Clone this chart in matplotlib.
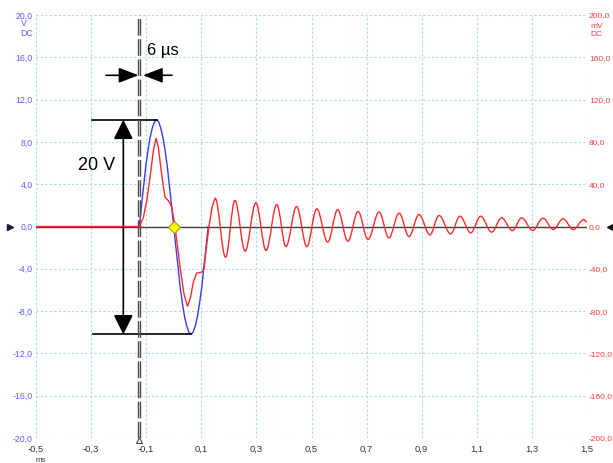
import matplotlib
matplotlib.use('Agg')
import matplotlib.pyplot as plt
from matplotlib.path import Path
from matplotlib.patches import PathPatch
import numpy as np

plt.rcParams['font.family'] = ['Liberation Sans', 'DejaVu Sans']

# channel A (blue, V): a single sine burst (flat part hidden under the zero line)
blue_t = [-0.125, -0.117, -0.109, -0.102, -0.094, -0.086, -0.078, -0.070, -0.0625,
          -0.055, -0.047, -0.039, -0.031, -0.023, -0.016, -0.008, 0.0,
          0.008, 0.016, 0.023, 0.031, 0.039, 0.047, 0.055, 0.0625,
          0.070, 0.078, 0.086, 0.094, 0.102, 0.109, 0.117, 0.125]
blue_v = [0, 2.0, 3.9, 5.6, 7.1, 8.4, 9.3, 9.9, 10.1,
          9.9, 9.3, 8.4, 7.1, 5.6, 3.9, 2.0, 0,
          -2.0, -3.9, -5.7, -7.2, -8.5, -9.4, -10.0, -10.2,
          -10.0, -9.4, -8.5, -7.2, -5.7, -3.9, -2.0, 0]

# channel B (red, mV): the pulse response, read point by point
pulse_t = [-0.5, -0.125, -0.110, -0.098, -0.086, -0.074, -0.064, -0.056, -0.044, -0.032,
           -0.020, -0.008, 0.001, 0.011, 0.023, 0.037, 0.050, 0.061, 0.071, 0.083,
           0.101, 0.110, 0.120, 0.128, 0.139]
pulse_mv = [0, 0, 8.8, 24.6, 46.6, 71.9, 83.5, 75.0, 49.8, 27.7,
            24.6, 18.9, 5.7, -13.2, -38.5, -63.7, -75.7, -66.8, -52.6, -44.1,
            -43.2, -40.0, -16.4, 0, 18.3]

# ringing after the pulse: successive peaks / troughs
ring_t = [0.150, 0.188, 0.222, 0.259, 0.298, 0.335, 0.374, 0.407, 0.446, 0.483,
          0.519, 0.559, 0.595, 0.632, 0.669, 0.705, 0.745, 0.781, 0.818, 0.854,
          0.890, 0.930, 0.963, 1.005, 1.039, 1.078, 1.114, 1.154, 1.190, 1.229,
          1.263, 1.303, 1.340, 1.378, 1.413, 1.450, 1.489]
ring_mv = [26.8, -29.0, 24.6, -23.3, 22.4, -22.7, 20.8, -19.0, 18.9, -19.0,
           16.7, -14.8, 16.0, -13.9, 14.2, -12.3, 13.6, -10.7, 12.6, -9.5,
           11.3, -7.9, 10.4, -7.0, 9.7, -6.0, 9.7, -5.3, 8.2, -3.8,
           8.2, -3.8, 7.9, -2.8, 7.3, -2.8, 6.6]
end_t, end_mv = 1.5, 4.0

cursor_t = [-0.128, -0.122]

x_ticks = [-0.5, -0.3, -0.1, 0.1, 0.3, 0.5, 0.7, 0.9, 1.1, 1.3, 1.5]
x_labels = ['-0,5', '-0,3', '-0,1', '0,1', '0,3', '0,5', '0,7', '0,9', '1,1', '1,3', '1,5']
v_ticks = [-20, -16, -12, -8, -4, 0, 4, 8, 12, 16, 20]
v_labels = ['-20,0', '-16,0', '-12,0', '-8,0', '-4,0', '0,0', '4,0', '8,0', '12,0', '16,0', '20,0']
mv_ticks = [-200, -160, -120, -80, -40, 0, 40, 80, 120, 160, 200]
mv_labels = ['-200,0', '-160,0', '-120,0', '-80,0', '-40,0', '0,0', '40,0', '80,0', '120,0', '160,0', '200,0']

blue = '#3a3aff'
red = '#ff2a2a'
blue_lbl = '#5c5cff'
red_lbl = '#ff3c3c'
W, H = 613, 463

fig = plt.figure(figsize=(W / 100, H / 100), dpi=100)
ax = fig.add_axes([36 / W, 25 / H, 551 / W, 423 / H])
ax.set_xlim(-0.5, 1.5)
ax.set_ylim(-20, 20)
ax.set_xticks(x_ticks, x_labels)
ax.set_yticks(v_ticks, v_labels)
ax.tick_params(axis='both', length=0)
ax.tick_params(axis='y', labelcolor=blue_lbl, labelsize=6.3, pad=2.5)
ax.tick_params(axis='x', labelcolor='#333333', labelsize=6.8, pad=5)
ax.grid(True, color='#a9d9ea', linestyle=(0, (2, 2)), lw=0.8)
for s in ax.spines.values():
    s.set_visible(False)

ax2 = ax.twinx()
ax2.set_ylim(-200, 200)
ax2.set_yticks(mv_ticks, mv_labels)
ax2.tick_params(axis='y', length=0, labelcolor=red_lbl, labelsize=6.0, pad=1.5)
for s in ax2.spines.values():
    s.set_visible(False)

# traces
ax.plot(blue_t, blue_v, color=blue, lw=1.0, zorder=2)
ax.axhline(0, color='#404040', lw=1.0, zorder=2.5)

verts = list(zip(pulse_t, pulse_mv))
codes = [Path.MOVETO] + [Path.LINETO] * (len(pulse_t) - 1)
verts.append((ring_t[0], ring_mv[0]))
codes.append(Path.LINETO)
k = 1 - 2 / np.pi
for i in range(1, len(ring_t)):
    t0, m0 = ring_t[i - 1], ring_mv[i - 1]
    t1, m1 = ring_t[i], ring_mv[i]
    dt = t1 - t0
    verts += [(t0 + k * dt, m0), (t1 - k * dt, m1), (t1, m1)]
    codes += [Path.CURVE4] * 3
verts.append((end_t, end_mv))
codes.append(Path.LINETO)
ax2.add_patch(PathPatch(Path(verts, codes), fill=False, ec=red, lw=1.0, zorder=3))

ax2.plot([0], [0], marker='D', ms=6, mfc='#ffff00', mec='#a89a00', mew=0.8, zorder=6)

# cursors
for ct in cursor_t:
    ax.axvline(ct, color='#4a4a4a', lw=1.0, ls=(0, (12, 2.5)), zorder=5)
ax.plot([np.mean(cursor_t)], [-20.2], marker='^', ms=5, mfc='white', mec='#444444',
        mew=0.8, clip_on=False, zorder=6)

# side markers
ax.plot([-0.047], [0.5], marker='>', ms=4, color='#1a1a3a', transform=ax.transAxes, clip_on=False)
ax2.plot([1.042], [0.5], marker='<', ms=4, color='#111111', transform=ax2.transAxes, clip_on=False)

# annotations
ap_h = dict(arrowstyle='-|>,head_length=0.6,head_width=0.23', mutation_scale=20,
            color='k', lw=1.2, shrinkA=0, shrinkB=0)
ax.annotate('', xy=(cursor_t[0], 14.3), xytext=(-0.246, 14.3), arrowprops=ap_h, zorder=7)
ax.annotate('', xy=(-0.1116, 14.3), xytext=(-0.0064, 14.3), arrowprops=ap_h, zorder=7)
ax.text(-0.097, 16.64, '6 µs', fontsize=12, ha='left', va='center', color='k')

vmax, vmin = max(blue_v), min(blue_v)
t_max = blue_t[blue_v.index(vmax)]
t_min = blue_t[blue_v.index(vmin)]
ax.plot([-0.298, t_max], [vmax, vmax], color='k', lw=1.2, zorder=4)
ax.plot([-0.294, t_min], [vmin, vmin], color='k', lw=1.2, zorder=4)
ap_v = dict(arrowstyle='<|-|>,head_length=0.6,head_width=0.3', mutation_scale=20,
            color='k', lw=1.2, shrinkA=0, shrinkB=0)
ax.annotate('', xy=(-0.183, vmax), xytext=(-0.183, vmin), arrowprops=ap_v, zorder=7)
ax.text(-0.3475, 5.77, '20 V', fontsize=13, ha='left', va='center', color='k')

# unit labels
fig.text(24 / W, 1 - 24 / H, 'V', color=blue_lbl, fontsize=6.3, ha='center', va='center')
fig.text(33 / W, 1 - 33 / H, 'DC', color=blue_lbl, fontsize=6.3, ha='right', va='center')
fig.text(590 / W, 1 - 26 / H, 'mV', color=red_lbl, fontsize=6.0, ha='left', va='center')
fig.text(590 / W, 1 - 35 / H, 'DC', color=red_lbl, fontsize=6.0, ha='left', va='center')
fig.text(41 / W, 1 - 460 / H, 'ms', color='#333333', fontsize=5.5, ha='center', va='center')

fig.savefig('out.png', dpi=100)
